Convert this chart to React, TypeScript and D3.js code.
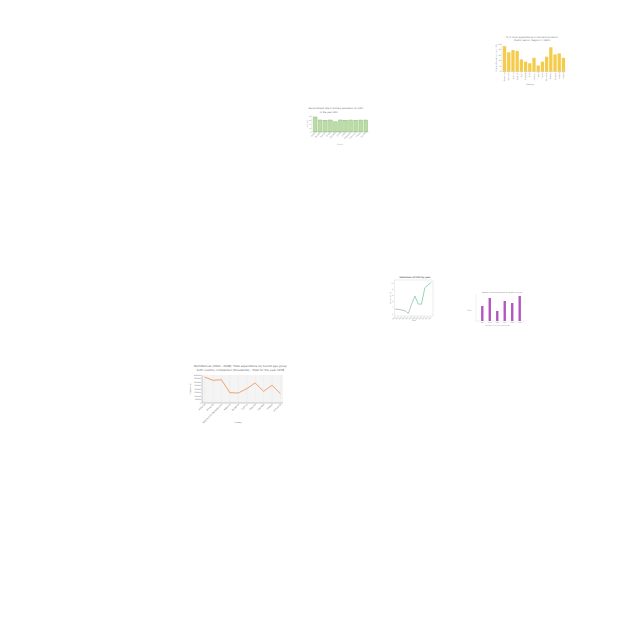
import * as d3 from 'd3'

// chart 1 – yellow bars, top right
const c1Countries = ['Argentina', 'Australia', 'Austria', 'Belgium', 'Brazil', 'Canada', 'Chile', 'Denmark', 'Finland', 'France', 'Germany', 'Greece', 'Hungary', 'Iceland', 'Ireland']
const c1Values = [92, 70, 78, 75, 44, 36, 30, 50, 22, 36, 54, 88, 62, 66, 50]
const c1Ticks = [0, 20, 40, 60, 80, 100]

// chart 2 – green bars, upper middle
const c2Countries = ['Benin', 'Bhutan', 'Bolivia', 'Brazil', 'Burundi', 'Chad', 'Chile', 'Colombia', 'Comoros', 'Congo', 'Croatia']
const c2Values = [75, 60, 59, 60, 51, 60, 59, 60, 59, 60, 60]
const c2Ticks = [0, 20, 40, 60, 80]

// chart 3 – line over years
const c3Years = ['2000', '2001', '2002', '2003', '2004', '2005', '2006', '2007', '2008', '2009', '2010', '2011']
const c3Values = [1.6, 1.5, 1.3, 1.0, 0.2, 3.2, 5.8, 3.2, 3.2, 8.5, 9.4, 10.3]
const c3Ticks = [0, 2, 4, 6, 8, 10]

// chart 4 – purple dotted bars
const c4Years = ['2004', '2005', '2006', '2007', '2008', '2009']
const c4Values = [15, 23, 10, 20, 18, 25]
const c4Ticks = [0, 5, 10, 15, 20, 25]

// chart 5 – orange line, bottom left
const c5Countries = ['Albania', 'Armenia', 'Bosnia and Herzegovina', 'Belarus', 'Bulgaria', 'Cyprus', 'Estonia', 'Georgia', 'Greece', 'Lithuania']
const c5Values = [3710000, 3240000, 3330000, 1470000, 1430000, 2040000, 2860000, 1670000, 2530000, 1330000]
const c5Ticks = [0, 500000, 1000000, 1500000, 2000000, 2500000, 3000000, 3500000, 4000000]

const FONT = 'DejaVu Sans, sans-serif'
const K = 0.2 // every panel is drawn 5x bigger and shrunk

function Chart1() {
  const pad = { l: 35, r: 355, t: 50, b: 188 }
  const x = d3.scaleBand().domain(c1Countries).range([pad.l, pad.r]).padding(0.22)
  const y = d3.scaleLinear().domain([0, 100]).range([pad.b, pad.t])
  return (
    <g transform={`translate(495,34) scale(${K})`} fontFamily={FONT}>
      <text x={185} y={20} textAnchor="middle" fontSize={12} fill="#777">% of total expenditure in the service sector</text>
      <text x={185} y={37} textAnchor="middle" fontSize={12} fill="#777">(Public sector, Region 1, 1991)</text>
      <text transform={`translate(12,${(pad.t + pad.b) / 2}) rotate(-90)`} textAnchor="middle" fontSize={10} fill="#777">Share of expenditure (in %)</text>
      {c1Ticks.map(t => (
        <g key={t}>
          <line x1={pad.l - 4} x2={pad.l} y1={y(t)} y2={y(t)} stroke="#999" />
          <text x={pad.l - 6} y={y(t) + 3} textAnchor="end" fontSize={8} fill="#777">{t}</text>
        </g>
      ))}
      {c1Countries.map((c, i) => (
        <rect key={c} x={x(c)} y={y(c1Values[i])} width={x.bandwidth()} height={pad.b - y(c1Values[i])} fill="#f4cb4a" />
      ))}
      <line x1={pad.l} x2={pad.l} y1={pad.t} y2={pad.b} stroke="#999" />
      <line x1={pad.l} x2={pad.r} y1={pad.b} y2={pad.b} stroke="#999" />
      {c1Countries.map(c => (
        <text key={c} transform={`translate(${x(c)! + x.bandwidth() / 2 + 3},${pad.b + 5}) rotate(-90)`} textAnchor="end" fontSize={9} fill="#777">{c}</text>
      ))}
      <text x={175} y={255} textAnchor="middle" fontSize={10} fill="#777">Country</text>
    </g>
  )
}

function Chart2() {
  const pad = { l: 35, r: 320, t: 55, b: 135 }
  const x = d3.scaleBand().domain(c2Countries).range([pad.l, pad.r]).padding(0.3)
  const y = d3.scaleLinear().domain([0, 80]).range([pad.b, pad.t])
  return (
    <g transform={`translate(305,105) scale(${K})`} fontFamily={FONT}>
      <text x={155} y={22} textAnchor="middle" fontSize={11} fill="#666">Net enrolment rate in primary education (%) 2007</text>
      <text x={120} y={40} textAnchor="middle" fontSize={11} fill="#666">in the year 2007</text>
      <text transform={`translate(15,${(pad.t + pad.b) / 2}) rotate(-90)`} textAnchor="middle" fontSize={8} fill="#777">Rate (%)</text>
      {c2Ticks.map(t => (
        <g key={t}>
          <line x1={pad.l - 3} x2={pad.l} y1={y(t)} y2={y(t)} stroke="#aaa" />
          <text x={pad.l - 5} y={y(t) + 3} textAnchor="end" fontSize={7} fill="#888">{t}</text>
        </g>
      ))}
      {c2Countries.map((c, i) => (
        <rect key={c} x={x(c)} y={y(c2Values[i])} width={x.bandwidth()} height={pad.b - y(c2Values[i])} fill="#bcdca6" stroke="#7cae66" strokeWidth={2} />
      ))}
      <line x1={pad.l} x2={pad.l} y1={pad.t - 5} y2={pad.b} stroke="#999" />
      <line x1={pad.l} x2={pad.r} y1={pad.b} y2={pad.b} stroke="#999" />
      {c2Countries.map(c => (
        <text key={c} transform={`translate(${x(c)! + x.bandwidth() / 2},${pad.b + 6}) rotate(-45)`} textAnchor="end" fontSize={9} fill="#888">{c}</text>
      ))}
      <text x={175} y={202} textAnchor="middle" fontSize={8} fill="#888">Country</text>
    </g>
  )
}

function Chart3() {
  const pad = { l: 46, r: 240, t: 40, b: 220 }
  const x = d3.scalePoint().domain(c3Years).range([pad.l + 5, pad.r - 8])
  const y = d3.scaleLinear().domain([0, 11]).range([pad.b - 10, pad.t])
  const line = d3.line<string>().x(d => x(d)!).y((d, i) => y(c3Values[i]))
  return (
    <g transform={`translate(385,272) scale(${K})`} fontFamily={FONT}>
      <defs>
        <linearGradient id="c3grad" gradientUnits="userSpaceOnUse" x1={pad.l} x2={pad.r} y1={0} y2={0}>
          <stop offset="0%" stopColor="#9a9a9a" />
          <stop offset="45%" stopColor="#96b8a0" />
          <stop offset="60%" stopColor="#66c68a" />
          <stop offset="100%" stopColor="#55bdb2" />
        </linearGradient>
      </defs>
      <text x={150} y={28} textAnchor="middle" fontSize={11} fontWeight="bold" fill="#666">Emissions of CO2 by year</text>
      <rect x={pad.l} y={pad.t} width={pad.r - pad.l} height={pad.b - pad.t} fill="none" stroke="#c4c4c4" strokeWidth={1.5} />
      {c3Ticks.map(t => (
        <g key={t}>
          <line x1={pad.l - 4} x2={pad.l} y1={y(t)} y2={y(t)} stroke="#aaa" />
          <text x={pad.l - 6} y={y(t) + 3} textAnchor="end" fontSize={8} fill="#888">{t}</text>
        </g>
      ))}
      <text transform={`translate(28,130) rotate(-90)`} textAnchor="middle" fontSize={9} fill="#777">Emissions (kt)</text>
      <path d={line(c3Years)!} fill="none" stroke="url(#c3grad)" strokeWidth={3.5} />
      {c3Years.map(c => (
        <text key={c} transform={`translate(${x(c)! + 2},${pad.b + 5}) rotate(-45)`} textAnchor="end" fontSize={8} fill="#888">{c}</text>
      ))}
      <text x={145} y={244} textAnchor="middle" fontSize={9} fill="#777">Year</text>
    </g>
  )
}

function Chart4() {
  const pad = { l: 55, r: 305, t: 30, b: 165 }
  const x = d3.scaleBand().domain(c4Years).range([pad.l, pad.r]).padding(0.68)
  const y = d3.scaleLinear().domain([0, 27]).range([pad.b, pad.t])
  return (
    <g transform={`translate(465,288) scale(${K})`} fontFamily={FONT}>
      <defs>
        <pattern id="c4dots" width={7} height={7} patternUnits="userSpaceOnUse">
          <rect width={7} height={7} fill="#9a36b0" />
          <circle cx={3.5} cy={3.5} r={2.2} fill="#e58fe2" />
        </pattern>
      </defs>
      <text x={185} y={25} textAnchor="middle" fontSize={9} fill="#777">Number of tourist arrivals by quarter of year</text>
      <text x={22} y={115} textAnchor="middle" fontSize={8} fill="#777">Count</text>
      {c4Ticks.map(t => (
        <line key={t} x1={pad.l - 3} x2={pad.l} y1={y(t)} y2={y(t)} stroke="#aaa" />
      ))}
      <line x1={pad.l} x2={pad.l} y1={pad.t} y2={pad.b} stroke="#bbb" />
      <line x1={pad.l} x2={pad.r} y1={pad.b} y2={pad.b} stroke="#bbb" />
      {c4Years.map((c, i) => (
        <rect key={c} x={x(c)} y={y(c4Values[i])} width={x.bandwidth()} height={pad.b - y(c4Values[i])} fill="url(#c4dots)" />
      ))}
      {c4Years.map(c => (
        <text key={c} x={x(c)! + x.bandwidth() / 2} y={pad.b + 10} textAnchor="middle" fontSize={7} fill="#888">{c}</text>
      ))}
      <text x={165} y={190} textAnchor="middle" fontSize={8} fill="#888">Number of arrivals (thousands)</text>
    </g>
  )
}

function Chart5() {
  const pad = { l: 70, r: 475, t: 65, b: 205 }
  const x = d3.scalePoint().domain(c5Countries).range([pad.l, pad.r]).padding(0.3)
  const y = d3.scaleLinear().domain([0, 4000000]).range([pad.b, pad.t])
  const line = d3.line<string>().x(d => x(d)!).y((d, i) => y(c5Values[i]))
  return (
    <g transform={`translate(188,362) scale(${K})`} fontFamily={FONT}>
      <text x={262} y={25} textAnchor="middle" fontSize={14} fill="#666">Remittances (1990 - 2008): Total expenditure by tourist age group</text>
      <text x={262} y={45} textAnchor="middle" fontSize={14} fill="#666">both country comparison (thousands) - Total for the year 1978</text>
      <rect x={pad.l} y={pad.t} width={pad.r - pad.l} height={pad.b - pad.t} fill="#f4f4f4" />
      {c5Countries.map(c => (
        <line key={c} x1={x(c)} x2={x(c)} y1={pad.t} y2={pad.b} stroke="#e4e4e4" strokeWidth={1.5} />
      ))}
      {c5Ticks.map(t => (
        <text key={t} x={pad.l - 5} y={y(t) + 3} textAnchor="end" fontSize={8} fill="#666">{t}</text>
      ))}
      <line x1={pad.l} x2={pad.l} y1={pad.t} y2={pad.b} stroke="#555" strokeWidth={1.5} />
      <line x1={pad.l} x2={pad.r} y1={pad.b} y2={pad.b} stroke="#555" strokeWidth={1.5} />
      <text transform={`translate(14,135) rotate(-90)`} textAnchor="middle" fontSize={9} fill="#666">Expenditure</text>
      <path d={line(c5Countries)!} fill="none" stroke="#ec7f3a" strokeWidth={3.5} />
      {c5Countries.map(c => (
        <text key={c} transform={`translate(${x(c)! + 4},${pad.b + 8}) rotate(-45)`} textAnchor="end" fontSize={11} fill="#666">{c}</text>
      ))}
      <text x={250} y={305} textAnchor="middle" fontSize={9} fill="#666">Country</text>
    </g>
  )
}

export default function App() {
  return (
    <svg width={640} height={640} style={{ position: 'absolute', left: 0, top: 0, background: '#fff' }}>
      <Chart1 />
      <Chart2 />
      <Chart3 />
      <Chart4 />
      <Chart5 />
    </svg>
  )
}
